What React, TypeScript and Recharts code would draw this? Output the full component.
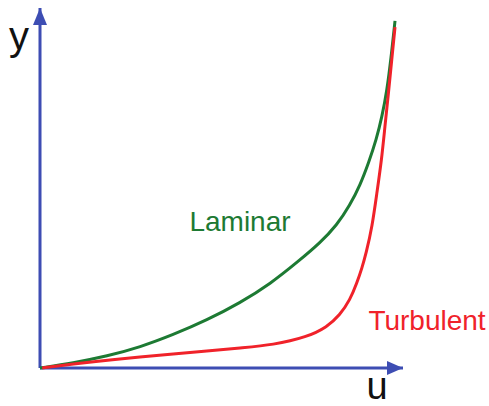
import { LineChart, Line, XAxis, YAxis, ReferenceDot, ReferenceLine, Customized } from 'recharts';

// velocity (u) vs height (y) profiles
const laminarU = [0, 9.1, 18.5, 27.6, 36.6, 46.0, 55.1, 63.4, 71.6, 77.1, 81.8, 85.4, 88.2, 90.6, 92.6, 94.2, 95.6, 96.7, 97.8];
const laminarY = [0, 1.4, 3.3, 5.8, 9.2, 13.3, 18.1, 23.3, 30.0, 34.7, 39.7, 45.3, 50.8, 57.2, 63.3, 69.7, 77.2, 86.1, 96.4];

const turbulentU = [0.6, 9.1, 18.5, 36.6, 46.0, 55.1, 64.2, 73.6, 79.1, 82.6, 85.4, 87.3, 88.7, 89.8, 91.5, 92.8, 94.1, 95.0, 96.0, 96.9, 97.8];
const turbulentY = [0, 1.1, 2.2, 3.9, 4.7, 5.6, 6.4, 8.6, 11.4, 14.7, 18.9, 23.6, 27.8, 31.7, 39.2, 48.6, 57.8, 66.9, 76.4, 85.6, 94.7];

const laminar = laminarU.map((u, i) => ({ u, y: laminarY[i] }));
const turbulent = turbulentU.map((u, i) => ({ u, y: turbulentY[i] }));

const AXIS = '#3d4db3';
const GREEN = '#1d7a33';
const RED = '#f0222a';
const FONT = '"Liberation Sans", Arial, sans-serif';

const upArrow = (props: any) => {
  const { cx, cy } = props;
  return <path d={`M${cx},${cy} L${cx - 7},${cy + 17} L${cx + 7},${cy + 17} Z`} fill={AXIS} />;
};

const rightArrow = (props: any) => {
  const { cx, cy } = props;
  return <path d={`M${cx},${cy} L${cx - 16},${cy - 7} L${cx - 16},${cy + 7} Z`} fill={AXIS} />;
};

const Texts = () => (
  <g fontFamily={FONT}>
    <text x={19} y={50} fontSize={40} textAnchor="middle" fill="#111">y</text>
    <text x={377} y={399} fontSize={38} textAnchor="middle" fill="#111">u</text>
    <text x={240} y={231} fontSize={28} textAnchor="middle" fill={GREEN}>Laminar</text>
    <text x={427} y={330} fontSize={28} textAnchor="middle" fill={RED}>Turbulent</text>
  </g>
);

export default function App() {
  return (
    <div style={{ position: 'absolute', left: 0, top: 0, width: 489, height: 406, background: '#fff' }}>
      <LineChart width={489} height={406} margin={{ top: 8, right: 86, bottom: 38, left: 40 }}>
        <XAxis type="number" dataKey="u" domain={[0, 100]} hide allowDuplicatedCategory={false} />
        <YAxis type="number" dataKey="y" domain={[0, 100]} hide />
        <ReferenceLine x={0} stroke={AXIS} strokeWidth={3} ifOverflow="visible" />
        <ReferenceLine y={0} stroke={AXIS} strokeWidth={3} ifOverflow="visible" />
        <Line
          data={laminar}
          dataKey="y"
          type="basis"
          stroke={GREEN}
          strokeWidth={3}
          dot={false}
          isAnimationActive={false}
        />
        <Line
          data={turbulent}
          dataKey="y"
          type="basis"
          stroke={RED}
          strokeWidth={3}
          dot={false}
          isAnimationActive={false}
        />
        <ReferenceDot x={0} y={100} r={0} shape={upArrow} ifOverflow="visible" />
        <ReferenceDot x={100} y={0} r={0} shape={rightArrow} ifOverflow="visible" />
        <Customized component={Texts} />
      </LineChart>
    </div>
  );
}
